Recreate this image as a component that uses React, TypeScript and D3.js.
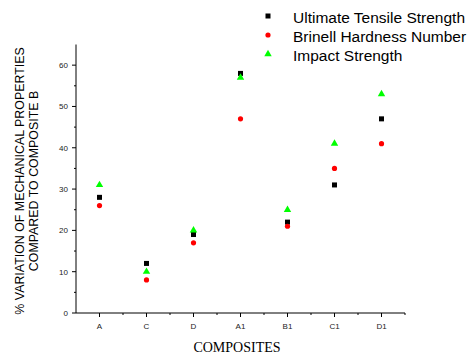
import React from "react";
import * as d3 from "d3";

const composites = ["A", "C", "D", "A1", "B1", "C1", "D1"];
const tensile = [28, 12, 19, 58, 22, 31, 47];
const brinell = [26, 8, 17, 47, 21, 35, 41];
const impact = [31, 10, 20, 57, 25, 41, 53];
const yTicks = [0, 10, 20, 30, 40, 50, 60];

const seriesNames = ["Ultimate Tensile Strength", "Brinell Hardness Number", "Impact Strength"];

export default function App() {
  const width = 470;
  const height = 356;
  const left = 76;
  const right = 405;
  const top = 44.5;
  const bottom = 313;

  const x = d3.scaleLinear().domain([0.5, 7.5]).range([left, right]);
  const y = d3.scaleLinear().domain([0, 65]).range([bottom, top]);

  const minorX = d3.range(1, 8).map((i) => i + 0.5);
  const minorY = d3.range(5, 65, 10);
  const tri = d3.symbol().type(d3.symbolTriangle).size(24)();

  const marker = (k: number, cx: number, cy: number, key: string) => {
    if (k === 0) return <rect key={key} x={cx - 2.5} y={cy - 2.5} width={5} height={5} fill="#000" />;
    if (k === 1) return <circle key={key} cx={cx} cy={cy} r={2.6} fill="#ff0000" />;
    return <path key={key} d={tri!} transform={`translate(${cx},${cy})`} fill="#00ff00" />;
  };

  const series = [tensile, brinell, impact];

  return (
    <svg width={width} height={height} style={{ position: "absolute", left: 0, top: 0, background: "#fff" }}
      fontFamily="Arial, 'Liberation Sans', sans-serif">
      {/* axes */}
      <line x1={left} x2={left} y1={top} y2={bottom} stroke="#000" />
      <line x1={left} x2={right} y1={bottom} y2={bottom} stroke="#000" />
      {yTicks.map((t) => (
        <g key={"y" + t}>
          <line x1={left - 4} x2={left} y1={y(t)} y2={y(t)} stroke="#000" />
          <text x={left - 8} y={y(t) + 3} fontSize={8} textAnchor="end" fill="#222">{t}</text>
        </g>
      ))}
      {minorY.map((t) => (
        <line key={"my" + t} x1={left - 2} x2={left} y1={y(t)} y2={y(t)} stroke="#000" />
      ))}
      {composites.map((c, i) => (
        <g key={"x" + c}>
          <line x1={x(i + 1)} x2={x(i + 1)} y1={bottom} y2={bottom + 4} stroke="#000" />
          <text x={x(i + 1)} y={bottom + 16} fontSize={8} textAnchor="middle" fill="#222">{c}</text>
        </g>
      ))}
      {minorX.map((t) => (
        <line key={"mx" + t} x1={x(t)} x2={x(t)} y1={bottom} y2={bottom + 2} stroke="#000" />
      ))}

      {/* axis titles */}
      <text x={237} y={352} fontSize={14} textAnchor="middle" fontFamily="'Liberation Serif', 'Times New Roman', serif">COMPOSITES</text>
      <g transform="translate(24,181) rotate(-90)">
        <text x={0} y={0} fontSize={12.4} textAnchor="middle">% VARIATION OF MECHANICAL PROPERTIES</text>
        <text x={0} y={14} fontSize={12.4} textAnchor="middle">COMPARED TO COMPOSITE B</text>
      </g>

      {/* points */}
      {series.map((vals, k) =>
        vals.map((v, i) => marker(k, x(i + 1), y(v), `p${k}-${i}`))
      )}

      {/* legend */}
      {seriesNames.map((n, k) => (
        <g key={"l" + k}>
          {marker(k, 268, 16 + k * 19, "lm" + k)}
          <text x={293} y={16 + k * 19 + 6.5} fontSize={15.5} fill="#000">{n}</text>
        </g>
      ))}
    </svg>
  );
}
